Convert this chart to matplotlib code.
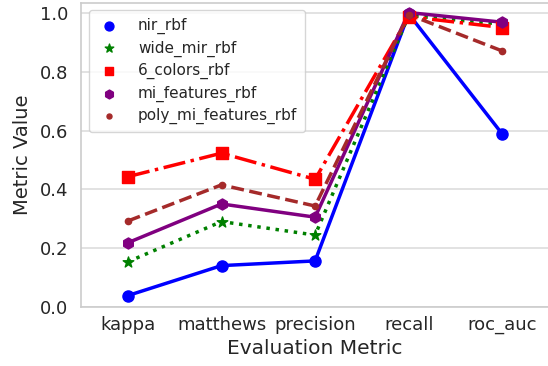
import matplotlib.pyplot as plt
import numpy as np

metrics = ['kappa', 'matthews', 'precision', 'recall', 'roc_auc']

nir_rbf = [0.038, 0.140, 0.156, 0.997, 0.588]
wide_mir_rbf = [0.153, 0.290, 0.244, 0.992, 0.962]
six_colors_rbf = [0.443, 0.523, 0.434, 0.988, 0.951]
mi_features_rbf = [0.218, 0.350, 0.305, 1.002, 0.969]
poly_mi_features_rbf = [0.292, 0.415, 0.343, 0.995, 0.871]

labels = ['nir_rbf', 'wide_mir_rbf', '6_colors_rbf', 'mi_features_rbf', 'poly_mi_features_rbf']
series = [nir_rbf, wide_mir_rbf, six_colors_rbf, mi_features_rbf, poly_mi_features_rbf]
colors = ['blue', 'green', 'red', 'purple', 'brown']
markers = ['o', '*', 's', 'h', '.']
styles = ['-', ':', '-.', '-', '--']
msizes = [8, 8, 8, 8, 9]

fig = plt.figure(figsize=(5.48, 3.66), dpi=100)
ax = fig.add_axes([0.148, 0.162, 0.854, 0.831])

x = np.arange(len(metrics))
handles = []
for vals, lab, c, m, ls, ms in zip(series, labels, colors, markers, styles, msizes):
    ax.plot(x, vals, linestyle=ls, color=c, linewidth=2.5, zorder=3)
    h = ax.scatter(x, vals, marker=m, color=c, s=ms ** 2, zorder=4, label=lab)
    handles.append(h)

ax.set_xticks(x)
ax.set_xticklabels(metrics)
ax.set_xlim(-0.5, 4.5)
ax.set_ylim(0, 1.036)
ax.set_yticks([0.0, 0.2, 0.4, 0.6, 0.8, 1.0])
ax.set_xlabel('Evaluation Metric', fontsize=14.5, color='#262626', labelpad=3)
ax.set_ylabel('Metric Value', fontsize=14, color='#262626', labelpad=6)
ax.tick_params(axis='x', labelsize=13, colors='#262626', length=0, pad=7)
ax.tick_params(axis='y', labelsize=13, colors='#262626', length=0, pad=9)

ax.grid(axis='y', color='#dddddd', linewidth=1.2)
ax.set_axisbelow(True)
for s in ax.spines.values():
    s.set_color('#cccccc')
    s.set_linewidth(1.2)

leg = ax.legend(handles=handles, loc='upper left', bbox_to_anchor=(0.017, 0.975),
                borderaxespad=0, fontsize=11, frameon=True, handletextpad=1.1,
                borderpad=0.5, labelspacing=0.42, scatterpoints=1, handlelength=1.6,
                markerscale=0.8)
leg.get_frame().set_edgecolor('#cccccc')
for t in leg.get_texts():
    t.set_color('#262626')

fig.savefig('out.png', dpi=100)
